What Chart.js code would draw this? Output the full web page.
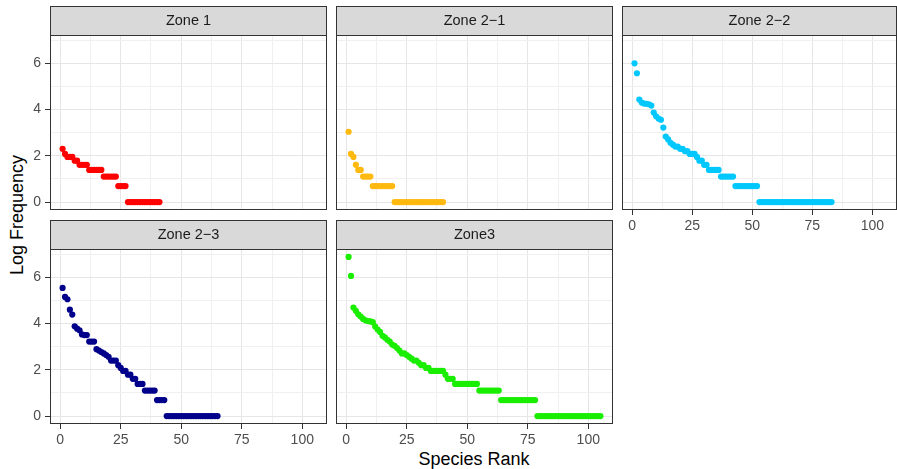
<!DOCTYPE html>
<html>
<head>
<meta charset="utf-8">
<title>Species rank abundance by zone</title>
<script src="https://cdn.jsdelivr.net/npm/chart.js@4/dist/chart.umd.min.js"></script>
<style>
  html, body { margin: 0; padding: 0; background: #ffffff; overflow: hidden; }
  #wrap { position: relative; width: 897px; height: 469px; overflow: hidden; background: #ffffff; }
  #wrap canvas { position: absolute; left: 0; top: 0; }
  .axis-title {
    position: absolute;
    font-family: "Liberation Sans", Arial, Helvetica, sans-serif;
    font-size: 18px;
    color: #000000;
    white-space: nowrap;
    line-height: 1;
  }
  #xtitle { left: 474px; top: 459px; transform: translate(-50%, -50%); }
  #ytitle { left: 17px; top: 215px; transform: translate(-50%, -50%) rotate(-90deg); }
</style>
</head>
<body>
<div id="wrap">
  <div class="axis-title" id="xtitle">Species Rank</div>
  <div class="axis-title" id="ytitle">Log Frequency</div>
</div>
<script>
// Facet labels and point colours
const zoneNames = ['Zone 1', 'Zone 2\u22121', 'Zone 2\u22122', 'Zone 2\u22123', 'Zone3'];
const zoneColors = ['#ff0000', '#ffb90f', '#00c8ff', '#00008b', '#1aee00'];

// Log frequency of each species, in rank order (rank = position + 1)
const zone1 = [
  2.30, 2.08, 1.95, 1.95, 1.95, 1.79, 1.79, 1.61, 1.61, 1.61,
  1.61, 1.39, 1.39, 1.39, 1.39, 1.39, 1.39, 1.10, 1.10, 1.10,
  1.10, 1.10, 1.10, 0.69, 0.69, 0.69, 0.69, 0, 0, 0,
  0, 0, 0, 0, 0, 0, 0, 0, 0, 0,
  0
];
const zone2_1 = [
  3.04, 2.08, 1.95, 1.61, 1.39, 1.39, 1.10, 1.10, 1.10, 1.10,
  0.69, 0.69, 0.69, 0.69, 0.69, 0.69, 0.69, 0.69, 0.69, 0,
  0, 0, 0, 0, 0, 0, 0, 0, 0, 0,
  0, 0, 0, 0, 0, 0, 0, 0, 0, 0
];
const zone2_2 = [
  6.00, 5.57, 4.43, 4.30, 4.26, 4.25, 4.23, 4.17, 3.87, 3.71,
  3.61, 3.56, 3.22, 2.83, 2.71, 2.56, 2.48, 2.40, 2.40, 2.30,
  2.30, 2.20, 2.20, 2.08, 2.08, 2.08, 1.95, 1.79, 1.79, 1.61,
  1.61, 1.39, 1.39, 1.39, 1.39, 1.39, 1.10, 1.10, 1.10, 1.10,
  1.10, 1.10, 0.69, 0.69, 0.69, 0.69, 0.69, 0.69, 0.69, 0.69,
  0.69, 0.69, 0, 0, 0, 0, 0, 0, 0, 0,
  0, 0, 0, 0, 0, 0, 0, 0, 0, 0,
  0, 0, 0, 0, 0, 0, 0, 0, 0, 0,
  0, 0, 0
];
const zone2_3 = [
  5.54, 5.15, 5.05, 4.60, 4.39, 3.88, 3.78, 3.71, 3.53, 3.50,
  3.50, 3.22, 3.22, 3.22, 2.89, 2.83, 2.77, 2.71, 2.64, 2.56,
  2.40, 2.40, 2.40, 2.20, 2.08, 1.95, 1.95, 1.79, 1.79, 1.61,
  1.61, 1.39, 1.39, 1.39, 1.10, 1.10, 1.10, 1.10, 1.10, 0.69,
  0.69, 0.69, 0.69, 0, 0, 0, 0, 0, 0, 0,
  0, 0, 0, 0, 0, 0, 0, 0, 0, 0,
  0, 0, 0, 0, 0
];
const zone3 = [
  6.88, 6.06, 4.69, 4.55, 4.40, 4.30, 4.20, 4.14, 4.11, 4.09,
  4.06, 3.87, 3.74, 3.64, 3.47, 3.40, 3.30, 3.22, 3.09, 3.04,
  2.94, 2.83, 2.71, 2.71, 2.64, 2.56, 2.48, 2.40, 2.40, 2.30,
  2.20, 2.20, 2.08, 2.08, 1.95, 1.95, 1.95, 1.95, 1.95, 1.95,
  1.79, 1.61, 1.61, 1.61, 1.39, 1.39, 1.39, 1.39, 1.39, 1.39,
  1.39, 1.39, 1.39, 1.39, 1.10, 1.10, 1.10, 1.10, 1.10, 1.10,
  1.10, 1.10, 1.10, 0.69, 0.69, 0.69, 0.69, 0.69, 0.69, 0.69,
  0.69, 0.69, 0.69, 0.69, 0.69, 0.69, 0.69, 0.69, 0, 0,
  0, 0, 0, 0, 0, 0, 0, 0, 0, 0,
  0, 0, 0, 0, 0, 0, 0, 0, 0, 0,
  0, 0, 0, 0, 0
];
const zoneValues = [zone1, zone2_1, zone2_2, zone2_3, zone3];

// Tick positions: labelled (major) and unlabelled (minor) grid lines
const xMajorTicks = [0, 25, 50, 75, 100];
const xMinorTicks = [12.5, 37.5, 62.5, 87.5];
const yMajorTicks = [0, 2, 4, 6];
const yMinorTicks = [1, 3, 5, 7];

// Shared scales with 5% expansion on both sides of the pooled data range
const allRanks = zoneValues.map(v => v.length);
const xLo = 1, xHi = Math.max(...allRanks);
const yLo = 0, yHi = Math.max(...zoneValues.flat());
const xPad = (xHi - xLo) * 0.05, yPad = (yHi - yLo) * 0.05;

// Facet layout: plotting rectangle of each panel and which axes it shows
const CW = 900, CH = 469, STRIP = 29;
const facets = [
  { left: 50,  right: 327, top: 35,  bottom: 210, showX: false, showY: true  },
  { left: 336, right: 613, top: 35,  bottom: 210, showX: false, showY: false },
  { left: 622, right: 899, top: 35,  bottom: 210, showX: true,  showY: false },
  { left: 50,  right: 327, top: 249, bottom: 424, showX: true,  showY: true  },
  { left: 336, right: 613, top: 249, bottom: 424, showX: true,  showY: false }
];
const Y_AXIS_W = 50, X_AXIS_H = 30;
const FONT = '"Liberation Sans", Arial, Helvetica, sans-serif';

// Strip header and panel border drawn around the chart area
const facetFrame = {
  id: 'facetFrame',
  afterDraw(chart, args, opts) {
    const { ctx, chartArea: a } = chart;
    const w = a.right - a.left, h = a.bottom - a.top;
    ctx.save();
    ctx.fillStyle = '#d9d9d9';
    ctx.fillRect(a.left, a.top - STRIP, w, STRIP);
    ctx.strokeStyle = '#333333';
    ctx.lineWidth = 1;
    ctx.strokeRect(Math.round(a.left) + 0.5, Math.round(a.top - STRIP) + 0.5, Math.round(w) - 1, Math.round(STRIP));
    ctx.strokeRect(Math.round(a.left) + 0.5, Math.round(a.top) + 0.5, Math.round(w) - 1, Math.round(h) - 1);
    ctx.fillStyle = '#1a1a1a';
    ctx.font = '14.5px ' + FONT;
    ctx.textAlign = 'center';
    ctx.textBaseline = 'middle';
    ctx.fillText(opts.label, a.left + w / 2, a.top - STRIP / 2 + 0.5);
    ctx.restore();
  }
};

function tickSetter(majors, minors) {
  return scale => {
    scale.ticks = majors.concat(minors).sort((p, q) => p - q).map(v => ({ value: v }));
  };
}

function axisOptions(majors, minors, min, max, show, isX) {
  return {
    type: 'linear',
    min: min,
    max: max,
    afterBuildTicks: tickSetter(majors, minors),
    afterFit: scale => {
      if (isX) scale.height = show ? X_AXIS_H : 0;
      else scale.width = show ? Y_AXIS_W : 0;
    },
    border: { display: false },
    grid: {
      color: c => majors.includes(c.tick.value) ? '#e6e6e6' : '#f0f0f0',
      lineWidth: 1,
      drawTicks: show,
      tickLength: 5,
      tickWidth: 1,
      tickColor: c => majors.includes(c.tick.value) ? '#333333' : 'rgba(0,0,0,0)'
    },
    ticks: {
      display: show,
      autoSkip: false,
      maxRotation: 0,
      minRotation: 0,
      padding: isX ? 3 : 4,
      color: '#4d4d4d',
      font: { family: FONT, size: 14 },
      callback: v => majors.includes(v) ? String(v) : ''
    }
  };
}

const wrap = document.getElementById('wrap');
facets.forEach((f, i) => {
  const canvas = document.createElement('canvas');
  canvas.width = CW;
  canvas.height = CH;
  canvas.style.width = CW + 'px';
  canvas.style.height = CH + 'px';
  wrap.appendChild(canvas);

  const yW = f.showY ? Y_AXIS_W : 0;
  const xH = f.showX ? X_AXIS_H : 0;
  const points = zoneValues[i].map((v, k) => ({ x: k + 1, y: v }));

  new Chart(canvas, {
    type: 'scatter',
    data: {
      datasets: [{
        label: zoneNames[i],
        data: points,
        backgroundColor: zoneColors[i],
        borderWidth: 0,
        pointRadius: 3.1,
        pointHoverRadius: 3.1
      }]
    },
    options: {
      responsive: false,
      animation: false,
      devicePixelRatio: 1,
      events: [],
      layout: {
        padding: {
          left: f.left - yW,
          top: f.top,
          right: CW - f.right,
          bottom: CH - f.bottom - xH
        }
      },
      scales: {
        x: axisOptions(xMajorTicks, xMinorTicks, xLo - xPad, xHi + xPad, f.showX, true),
        y: axisOptions(yMajorTicks, yMinorTicks, yLo - yPad, yHi + yPad, f.showY, false)
      },
      plugins: {
        legend: { display: false },
        tooltip: { enabled: false },
        facetFrame: { label: zoneNames[i] }
      }
    },
    plugins: [facetFrame]
  });
});
</script>
</body>
</html>
